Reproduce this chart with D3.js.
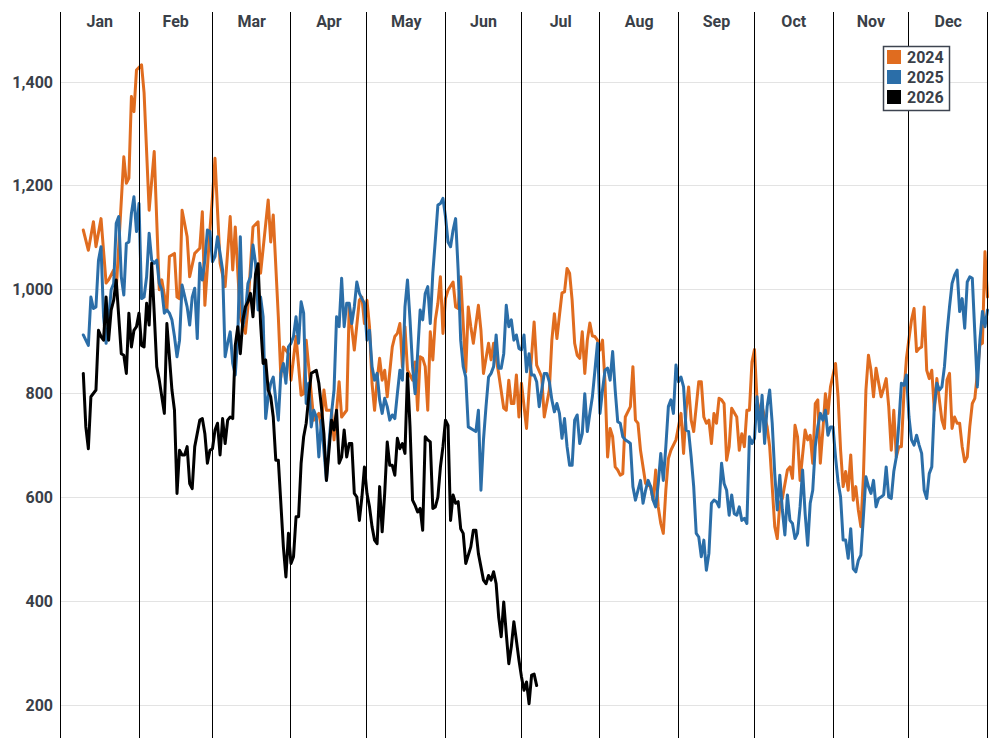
<!DOCTYPE html>
<html>
<head>
<meta charset="utf-8">
<script src="https://cdn.jsdelivr.net/npm/d3@7"></script>
<style>
  body { margin: 0; background: #fff; }
  text { font-family: Roboto, "Liberation Sans", sans-serif; }
</style>
</head>
<body>
<div class="linechart"></div>
<script>
// month names and the day of year each one starts on (leap-year calendar)
const months = ["Jan", "Feb", "Mar", "Apr", "May", "Jun", "Jul", "Aug", "Sep", "Oct", "Nov", "Dec"];
const monthStarts = [0, 31, 60, 91, 121, 152, 182, 213, 244, 274, 305, 335, 366];
const yTicks = [200, 400, 600, 800, 1000, 1200, 1400];
const years = ["2024", "2025", "2026"];
const colors = ["#e06c1f", "#2b6ea8", "#000000"];

// [day of year, value]
const values2024 = [[9,1115],[11,1076],[13,1131],[14,1083],[16,1137],[18,1013],[19,1019],[21,1038],[22,1000],[25,1256],[26,1205],[27,1215],[28,1372],[29,1343],[30,1423],[32,1433],[33,1379],[35,1153],[37,1266],[39,1000],[40,1019],[42,961],[43,1064],[45,1070],[46,986],[47,983],[48,1153],[50,1102],[51,1025],[53,1070],[55,1080],[56,1150],[57,970],[59,1115],[60,1179],[61,1253],[63,1051],[65,1006],[67,1141],[68,1038],[69,1121],[71,948],[73,916],[74,967],[76,1121],[78,1131],[79,1032],[82,1173],[83,1092],[84,1144],[86,948],[87,832],[88,890],[90,877],[91,826],[93,910],[95,797],[96,800],[97,903],[99,800],[100,749],[102,762],[103,736],[104,807],[105,768],[107,768],[108,711],[110,823],[111,755],[113,768],[114,970],[116,884],[118,980],[119,986],[120,935],[121,980],[122,929],[123,820],[124,768],[125,826],[126,868],[127,826],[128,845],[129,794],[131,890],[132,910],[133,916],[134,935],[135,852],[136,929],[137,845],[139,826],[140,861],[141,768],[142,871],[143,868],[144,852],[145,768],[146,919],[147,865],[148,942],[149,974],[150,1025],[151,916],[152,983],[153,999],[155,1015],[156,967],[157,964],[158,1025],[159,935],[160,842],[161,967],[162,929],[163,897],[165,970],[166,922],[167,839],[169,897],[170,865],[171,897],[173,839],[175,772],[176,768],[177,826],[178,781],[179,781],[180,836],[181,755],[182,820],[184,733],[185,807],[187,938],[188,855],[190,832],[191,755],[193,807],[194,903],[195,954],[196,906],[197,951],[198,994],[199,996],[200,1041],[201,1032],[202,980],[203,897],[204,874],[205,868],[206,919],[207,839],[208,903],[209,936],[210,911],[211,910],[212,903],[213,884],[214,903],[215,820],[216,678],[217,733],[218,717],[219,659],[220,653],[221,643],[222,646],[223,755],[225,775],[226,852],[227,749],[228,743],[229,691],[231,627],[233,621],[234,595],[235,653],[236,582],[237,550],[238,531],[239,614],[240,675],[241,691],[243,711],[245,762],[246,685],[247,768],[248,813],[249,749],[250,727],[252,823],[253,823],[254,755],[255,743],[256,749],[257,704],[258,762],[259,743],[260,791],[261,788],[262,781],[263,672],[264,698],[265,772],[267,755],[268,691],[269,723],[270,698],[271,768],[272,768],[273,861],[274,885],[275,788],[276,768],[277,775],[279,736],[280,698],[281,621],[282,544],[283,521],[284,589],[285,598],[287,653],[288,659],[289,637],[290,739],[291,717],[292,633],[293,682],[294,730],[295,711],[296,720],[297,666],[298,781],[299,788],[300,666],[301,730],[302,800],[303,762],[304,813],[306,858],[307,794],[308,691],[309,621],[310,650],[311,614],[312,682],[313,595],[314,621],[315,576],[316,544],[317,640],[318,807],[319,874],[320,845],[321,794],[322,849],[324,794],[325,810],[326,829],[327,775],[328,691],[329,768],[330,678],[331,698],[332,698],[333,800],[334,868],[335,906],[336,942],[337,964],[338,881],[339,887],[340,890],[341,967],[342,845],[343,829],[344,845],[345,768],[346,829],[347,788],[348,749],[349,733],[350,826],[351,839],[352,733],[353,755],[354,743],[355,743],[356,698],[357,669],[358,678],[359,736],[360,781],[361,791],[362,839],[363,894],[364,897],[365,1073],[366,986]];

const values2025 = [[9,913],[11,893],[12,986],[13,964],[14,967],[15,1057],[16,1083],[17,948],[18,897],[19,942],[20,1000],[21,1012],[22,1128],[23,1141],[24,1025],[25,990],[26,1089],[27,1092],[28,1147],[29,1179],[30,1112],[31,1166],[32,983],[33,986],[34,1025],[35,1109],[36,1057],[37,1051],[38,1057],[39,1012],[40,1000],[41,955],[42,961],[43,955],[44,942],[45,910],[46,871],[47,903],[48,1009],[50,967],[51,932],[52,986],[53,1003],[54,906],[55,1051],[56,1019],[57,1057],[58,1115],[59,1112],[60,1054],[61,1064],[62,1102],[64,1038],[65,871],[66,897],[67,919],[68,858],[69,836],[70,910],[71,1102],[72,929],[73,955],[74,1012],[75,1025],[76,1086],[77,1051],[78,961],[79,986],[80,948],[81,752],[82,794],[83,820],[84,832],[85,788],[86,749],[87,839],[88,858],[89,820],[90,890],[91,897],[92,910],[93,948],[94,897],[95,977],[96,955],[97,781],[98,820],[99,736],[100,768],[101,755],[102,678],[103,749],[104,691],[105,633],[106,704],[107,762],[108,807],[109,948],[110,929],[111,1022],[112,929],[113,974],[114,974],[115,935],[116,967],[117,1015],[118,993],[119,983],[120,974],[121,903],[122,922],[123,852],[124,826],[125,839],[126,788],[127,762],[128,791],[129,775],[130,749],[131,759],[132,752],[133,800],[134,845],[135,826],[136,967],[137,1019],[138,942],[139,852],[140,800],[141,877],[142,961],[143,942],[144,993],[145,1006],[146,935],[147,1032],[148,1096],[149,1163],[150,1166],[151,1176],[152,1141],[153,1092],[154,1083],[155,1115],[156,1137],[157,1038],[158,903],[159,852],[160,832],[161,736],[163,730],[164,727],[165,768],[166,614],[167,711],[168,775],[169,832],[170,839],[171,852],[172,913],[173,849],[174,849],[175,877],[176,970],[177,929],[178,942],[179,903],[180,913],[181,887],[182,884],[183,913],[184,842],[185,877],[186,836],[187,836],[188,823],[189,775],[190,807],[191,839],[192,839],[193,823],[194,788],[195,765],[196,781],[197,762],[198,714],[199,752],[200,698],[201,662],[202,662],[203,749],[204,759],[205,704],[206,723],[207,800],[208,727],[209,762],[210,794],[211,845],[212,897],[213,762],[214,807],[215,845],[216,849],[217,826],[218,881],[219,807],[220,746],[221,743],[222,717],[223,711],[224,708],[225,704],[226,621],[227,595],[228,614],[229,633],[230,589],[231,614],[232,633],[233,621],[234,595],[235,582],[236,627],[237,685],[238,633],[239,698],[240,775],[241,788],[242,762],[243,855],[244,823],[245,832],[246,813],[247,730],[248,727],[249,678],[250,621],[251,531],[252,524],[253,486],[254,518],[255,460],[256,492],[257,589],[258,595],[259,592],[260,582],[261,666],[262,627],[263,614],[264,566],[265,605],[266,569],[267,566],[268,582],[269,556],[270,560],[271,550],[272,717],[273,704],[274,714],[275,794],[276,727],[277,797],[278,704],[279,775],[280,807],[281,743],[282,646],[283,576],[284,643],[285,576],[286,528],[287,605],[288,556],[289,550],[290,521],[291,531],[292,582],[293,653],[294,569],[295,508],[296,589],[297,614],[298,698],[299,736],[300,762],[301,749],[302,768],[303,720],[304,736],[305,736],[306,678],[307,630],[308,601],[309,518],[310,518],[311,483],[312,540],[313,463],[314,457],[315,479],[316,489],[317,563],[318,640],[319,621],[320,608],[321,633],[322,582],[323,598],[324,601],[325,605],[326,659],[327,601],[328,598],[329,650],[330,678],[331,743],[332,820],[333,816],[334,836],[335,755],[336,711],[337,701],[338,720],[339,701],[340,685],[341,614],[342,598],[343,646],[344,659],[345,775],[346,820],[347,807],[348,813],[349,852],[350,916],[351,967],[352,1012],[353,1028],[354,1038],[355,958],[356,983],[357,926],[358,1015],[359,1025],[360,1022],[361,916],[362,813],[363,903],[364,958],[365,929],[366,961]];

const values2026 = [[9,839],[10,736],[11,694],[12,794],[14,807],[15,922],[16,910],[17,903],[18,986],[19,903],[20,961],[21,980],[22,1019],[23,948],[24,877],[25,874],[26,839],[27,955],[28,890],[29,922],[30,929],[31,955],[32,893],[33,890],[34,974],[35,932],[36,1051],[37,955],[38,852],[39,826],[41,762],[42,935],[44,807],[45,768],[46,608],[47,691],[48,682],[49,682],[50,698],[51,627],[52,617],[53,698],[55,749],[56,752],[57,723],[58,666],[59,691],[60,694],[61,730],[62,743],[63,682],[64,752],[65,704],[66,749],[67,755],[68,752],[69,893],[70,929],[71,877],[72,942],[73,967],[74,977],[75,993],[76,948],[77,1030],[78,1050],[79,935],[80,858],[81,865],[82,807],[83,794],[84,755],[85,672],[86,672],[87,589],[88,505],[89,447],[90,531],[91,473],[92,486],[93,563],[94,563],[95,666],[96,717],[97,743],[98,794],[99,839],[100,842],[101,845],[102,820],[103,775],[104,723],[105,633],[106,691],[107,749],[108,730],[109,768],[110,666],[111,678],[112,730],[113,678],[114,704],[115,704],[116,608],[117,601],[118,556],[119,601],[120,659],[121,608],[122,582],[123,544],[124,518],[125,511],[126,621],[127,534],[128,608],[129,707],[130,662],[131,662],[132,643],[133,714],[134,694],[135,704],[136,685],[137,839],[138,736],[139,595],[140,585],[141,572],[142,579],[143,537],[144,717],[145,711],[146,707],[147,579],[148,582],[149,601],[150,659],[151,698],[152,749],[153,739],[154,556],[155,605],[156,589],[157,592],[158,540],[159,531],[160,473],[162,505],[163,537],[164,537],[165,492],[167,441],[168,434],[169,450],[170,441],[171,457],[172,434],[173,370],[174,332],[175,399],[176,338],[177,280],[178,313],[179,361],[180,325],[181,287],[182,255],[183,229],[184,245],[185,203],[186,258],[187,260],[188,238]];

const seriesValues = [values2024, values2025, values2026];

const width = 1000, height = 750;
const plotTop = 12, plotBottom = 738;

const x = d3.scaleLinear()
    .domain([0, 366])
    .range([60.5, 987.5]);

const y = d3.scaleLinear()
    .domain([137.6, 1534.8])
    .range([737.7, 12]);

const crisp = v => Math.round(v - 0.5) + 0.5;

const svg = d3.select(".linechart")
    .append("svg")
    .attr("width", width)
    .attr("height", height);

// horizontal grid
svg.append("g")
    .selectAll("line")
    .data(yTicks)
    .join("line")
    .attr("x1", x(0))
    .attr("x2", x(366))
    .attr("y1", d => crisp(y(d)))
    .attr("y2", d => crisp(y(d)))
    .attr("stroke", "#e3e3e3")
    .attr("stroke-width", 1);

// the three yearly lines
const line = d3.line()
    .x(d => x(d[0]))
    .y(d => y(d[1]));

svg.append("g")
    .attr("fill", "none")
    .attr("stroke-width", 3)
    .attr("stroke-linejoin", "round")
    .attr("stroke-linecap", "round")
    .selectAll("path")
    .data(seriesValues)
    .join("path")
    .attr("stroke", (d, i) => colors[i])
    .attr("d", line);

// month separators drawn on top of the data
svg.append("g")
    .selectAll("line")
    .data(monthStarts)
    .join("line")
    .attr("x1", d => crisp(x(d)))
    .attr("x2", d => crisp(x(d)))
    .attr("y1", plotTop)
    .attr("y2", plotBottom)
    .attr("stroke", "#000")
    .attr("stroke-width", 1);

// month labels along the top
svg.append("g")
    .attr("font-size", 16)
    .attr("font-weight", "bold")
    .attr("fill", "#3a3f48")
    .attr("text-anchor", "middle")
    .selectAll("text")
    .data(months)
    .join("text")
    .attr("x", (d, i) => x((monthStarts[i] + monthStarts[i + 1]) / 2))
    .attr("y", 21)
    .attr("dy", "0.35em")
    .text(d => d);

// value labels on the left
const fmt = d3.format(",");
svg.append("g")
    .attr("font-size", 16)
    .attr("font-weight", "bold")
    .attr("fill", "#3a3f48")
    .attr("text-anchor", "end")
    .selectAll("text")
    .data(yTicks)
    .join("text")
    .attr("x", 53)
    .attr("y", d => y(d))
    .attr("dy", "0.35em")
    .text(d => fmt(d));

// legend
const legend = svg.append("g")
    .attr("transform", "translate(883.5,46.5)");

legend.append("rect")
    .attr("width", 66)
    .attr("height", 64)
    .attr("fill", "#fff")
    .attr("stroke", "#3d4450")
    .attr("stroke-width", 1.5);

const item = legend.selectAll("g.item")
    .data(years)
    .join("g")
    .attr("class", "item")
    .attr("transform", (d, i) => `translate(3.5,${3.5 + i * 20})`);

item.append("rect")
    .attr("width", 14)
    .attr("height", 14)
    .attr("fill", (d, i) => colors[i]);

item.append("text")
    .attr("x", 20)
    .attr("y", 7)
    .attr("dy", "0.35em")
    .attr("font-size", 16)
    .attr("font-weight", "bold")
    .attr("fill", "#3a3f48")
    .text(d => d);
</script>
</body>
</html>
